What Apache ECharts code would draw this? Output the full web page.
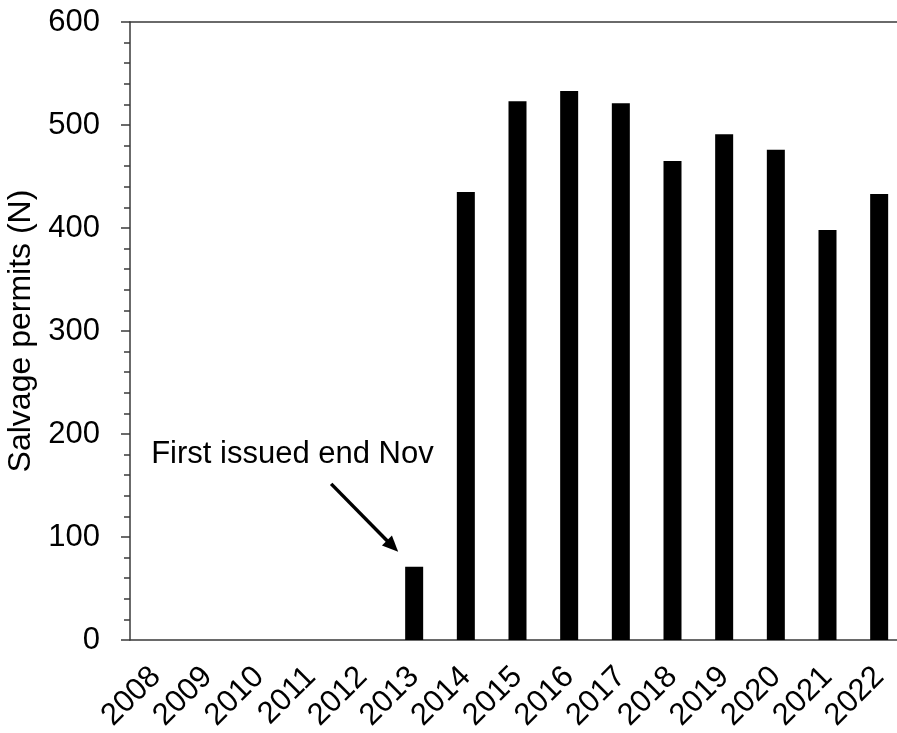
<!DOCTYPE html>
<html>
<head>
<meta charset="utf-8">
<script src="https://cdn.jsdelivr.net/npm/echarts@6/dist/echarts.min.js"></script>
<style>
  html, body { margin: 0; padding: 0; background: #fff; }
  #graphBar { width: 897px; height: 733px; }
</style>
</head>
<body>
<div id="graphBar"></div>
<script>
// years on the x axis
var years = ['2008', '2009', '2010', '2011', '2012', '2013', '2014', '2015',
             '2016', '2017', '2018', '2019', '2020', '2021', '2022'];
// salvage permits per year
var permits = [0, 0, 0, 0, 0, 71, 435, 523, 533, 521, 465, 491, 476, 398, 433];
var yTicks = [0, 100, 200, 300, 400, 500, 600];
var noteText = 'First issued end Nov';
var noteYear = '2013';

var font = "'Liberation Sans', Arial, sans-serif";
var axisColor = '#3a3a3a';

var dom = document.getElementById('graphBar');
var myChart = echarts.init(dom, null, { renderer: 'canvas' });

var option = {
    animation: false,
    backgroundColor: '#fff',
    textStyle: { fontFamily: font },
    grid: { left: 130, top: 22, width: 775, bottom: 93, containLabel: false, outerBoundsMode: 'none' },
    xAxis: [{
        type: 'category',
        data: years,
        position: 'bottom',
        axisLine: { lineStyle: { color: axisColor, width: 1.5 } },
        axisTick: { show: false },
        axisLabel: { rotate: 45, fontSize: 31, color: '#000', margin: 32, fontFamily: font, interval: 0 }
    }, {
        type: 'category',
        data: years,
        position: 'top',
        axisLine: { show: true, lineStyle: { color: axisColor, width: 1.5 } },
        axisTick: { show: false },
        axisLabel: { show: false }
    }],
    yAxis: {
        type: 'value',
        min: yTicks[0],
        max: yTicks[yTicks.length - 1],
        interval: 100,
        name: 'Salvage permits (N)',
        nameLocation: 'middle',
        nameGap: 90,
        nameRotate: 90,
        nameTextStyle: { fontSize: 32, color: '#000', fontFamily: font },
        axisLine: { show: true, lineStyle: { color: axisColor, width: 1.5 } },
        axisTick: { show: true, length: 9, lineStyle: { color: axisColor, width: 1.5 } },
        minorTick: { show: true, splitNumber: 5, length: 6, lineStyle: { color: axisColor, width: 1.5 } },
        splitLine: { show: false },
        axisLabel: { fontSize: 31, color: '#000', margin: 30, fontFamily: font }
    },
    series: [{
        type: 'bar',
        data: permits,
        barWidth: 18,
        itemStyle: { color: '#000' }
    }]
};
myChart.setOption(option, true);

// annotation anchored to the 2013 bar
var p = myChart.convertToPixel({ seriesIndex: 0 }, [noteYear, permits[years.indexOf(noteYear)]]);
var tail = [p[0] - 83, p[1] - 83];
var tip = [p[0] - 16, p[1] - 15];
var dx = tip[0] - tail[0], dy = tip[1] - tail[1];
var len = Math.sqrt(dx * dx + dy * dy);
var ux = dx / len, uy = dy / len;
var headLen = 16, headHalf = 7;
var base = [tip[0] - ux * headLen, tip[1] - uy * headLen];

myChart.setOption({
    graphic: [{
        type: 'line',
        shape: { x1: tail[0], y1: tail[1], x2: base[0] + ux * 2, y2: base[1] + uy * 2 },
        style: { stroke: '#000', lineWidth: 3.5 }
    }, {
        type: 'polygon',
        shape: {
            points: [
                tip,
                [base[0] - uy * headHalf, base[1] + ux * headHalf],
                [base[0] + uy * headHalf, base[1] - ux * headHalf]
            ]
        },
        style: { fill: '#000' }
    }, {
        type: 'text',
        x: p[0] - 263,
        y: p[1] - 112,
        style: {
            text: noteText,
            font: '31px ' + font,
            fill: '#000',
            textAlign: 'left',
            textVerticalAlign: 'middle'
        }
    }]
});
</script>
</body>
</html>
